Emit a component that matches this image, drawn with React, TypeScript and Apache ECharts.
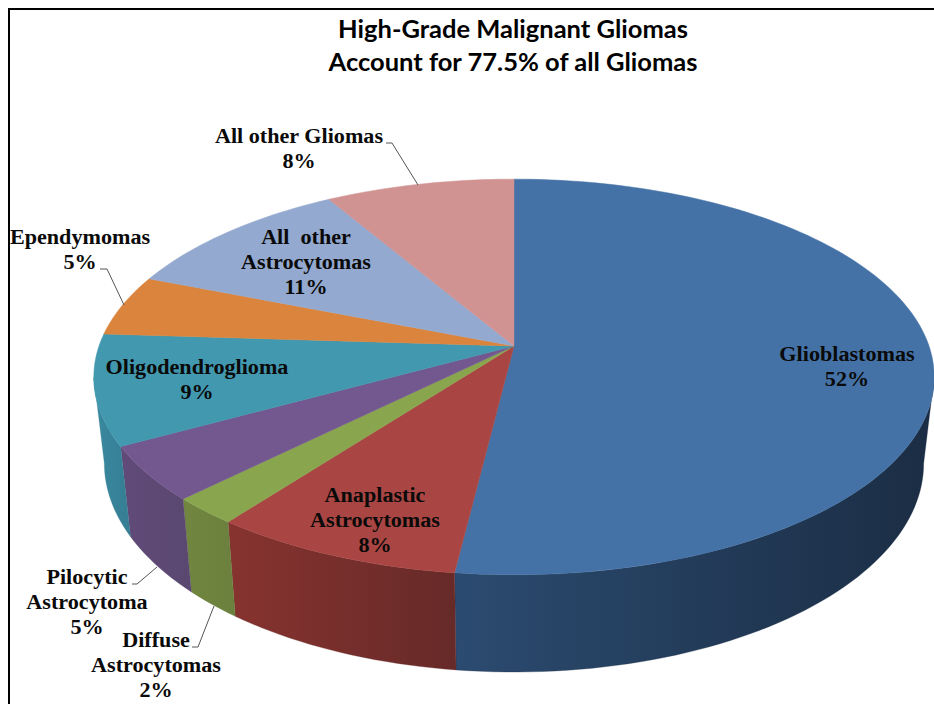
import React, { useEffect, useRef } from "react";
import * as echarts from "echarts";

const titleLines = ["High-Grade Malignant Gliomas", "Account for 77.5% of all Gliomas"];
const categories = [
  "Glioblastomas",
  "Anaplastic\nAstrocytomas",
  "Diffuse\nAstrocytomas",
  "Pilocytic\nAstrocytoma",
  "Oligodendroglioma",
  "Ependymomas",
  "All  other\nAstrocytomas",
  "All other Gliomas",
];
const percentLabels = [52, 8, 2, 5, 9, 5, 11, 8];
const values = [51.93, 8.37, 2.25, 4.45, 9, 5, 10.55, 8.45];
const topColors = ["#4472a6", "#a94643", "#89a54e", "#72588f", "#4198af", "#db843d", "#93a9cf", "#d09392"];
const sideStart = ["#2b4b70", "#87332f", "#71863f", "#614a79", "#3a8aa0", "#b06a30", "#7688a6", "#a87676"];
const sideEnd = ["#1b2d44", "#662a28", "#6b803d", "#5a4870", "#357d93", "#a06028", "#6a7a96", "#986a6a"];

const labelCenters = [
  [847, 354], [375, 495], [156, 640], [87, 577], [197, 367], [80, 237], [306, 237], [299, 136],
];
const leaderLines = [
  [[386, 143], [392, 143], [418, 185]],
  [[100, 269], [107, 269], [124, 305]],
  [[132, 584], [137, 584], [157, 567]],
  [[192, 647], [198, 647], [214, 606]],
];

// Perspective projection of the pie's disc
const CX = 514, CY = 346, RX = 415, RY = 193, K = 0.1566;
const DEPTH_Y = 430.6, DEPTH_SY = 1.055, DEPTH_SX = 0.975;
const SIDE_FROM = 99, SIDE_TO = 261;

function topPoint(deg: number): number[] {
  const t = (deg * Math.PI) / 180;
  const u = Math.sin(t), v = -Math.cos(t);
  const s = 1 / (1 - K * v);
  return [CX + RX * u * s, CY + RY * v * s];
}
function bottomPoint(deg: number): number[] {
  const p = topPoint(deg);
  return [CX + DEPTH_SX * (p[0] - CX), DEPTH_Y + DEPTH_SY * (p[1] - CY)];
}
function arc(a: number, b: number, fn: (d: number) => number[]): number[][] {
  const n = Math.max(2, Math.ceil(Math.abs(b - a) / 1.5));
  const pts: number[][] = [];
  for (let i = 0; i <= n; i++) pts.push(fn(a + ((b - a) * i) / n));
  return pts;
}

const total = values.reduce((s, v) => s + v, 0);
const serif = "'Liberation Serif', 'Times New Roman', serif";

export default function App() {
  const ref = useRef<HTMLDivElement>(null);
  useEffect(() => {
    const chart = echarts.init(ref.current!, undefined, { renderer: "svg" });
    const textEls = categories.map((c, i) => ({
      type: "text",
      x: labelCenters[i][0],
      y: labelCenters[i][1] - 12.5,
      scaleX: 1.08,
      z: 10,
      style: {
        text: `${c}\n${percentLabels[i]}%`,
        fontFamily: serif,
        fontWeight: "bold",
        fontSize: 20.5,
        lineHeight: 25.3,
        fill: "#0a0a0a",
        align: "center",
        verticalAlign: "top",
      },
    }));
    const titleEls = titleLines.map((t, i) => ({
      type: "text",
      x: 513,
      y: 28 + i * 33,
      z: 10,
      style: {
        text: t,
        fontFamily: "Lato, 'Open Sans', sans-serif",
        fontWeight: "bold",
        fontSize: 25.5,
        fill: "#000",
        align: "center",
        verticalAlign: "middle",
      },
    }));
    const leaderEls = leaderLines.map((pts) => ({
      type: "polyline",
      z: 9,
      shape: { points: pts },
      style: { stroke: "#555", lineWidth: 1, fill: "none" },
    }));
    chart.setOption({
      animation: false,
      backgroundColor: "#fff",
      series: [
        {
          type: "custom",
          coordinateSystem: "none",
          silent: true,
          data: values.map((v, i) => ({ name: categories[i], value: [v, i] })),
          renderItem: (_p: any, api: any) => {
            const v = api.value(0) as number;
            const i = api.value(1) as number;
            const before = values.slice(0, i).reduce((s, x) => s + x, 0);
            const a = (before / total) * 360;
            const b = ((before + v) / total) * 360;
            const children: any[] = [];
            const sa = Math.max(a, SIDE_FROM), sb = Math.min(b, SIDE_TO);
            if (sb > sa) {
              const pts = arc(sa, sb, topPoint).concat(arc(sb, sa, bottomPoint));
              const fill = new echarts.graphic.LinearGradient(0, 0, 1, 0, [
                { offset: 0, color: sideStart[i] },
                { offset: 1, color: sideEnd[i] },
              ]);
              children.push({
                type: "polygon",
                shape: { points: pts },
                style: { fill, stroke: sideEnd[i], lineWidth: 0.3 },
              });
            }
            children.push({
              type: "polygon",
              shape: { points: [[CX, CY], ...arc(a, b, topPoint)] },
              style: { fill: topColors[i], stroke: topColors[i], lineWidth: 0.5 },
            });
            return { type: "group", children };
          },
        },
      ],
      graphic: [
        { type: "line", z: 9, shape: { x1: 9, y1: 704, x2: 9, y2: 9 }, style: { stroke: "#000", lineWidth: 2 } },
        { type: "line", z: 9, shape: { x1: 8, y1: 9, x2: 934, y2: 9 }, style: { stroke: "#000", lineWidth: 2 } },
        ...leaderEls,
        ...titleEls,
        ...textEls,
      ],
    });
    return () => chart.dispose();
  }, []);
  return <div ref={ref} style={{ position: "absolute", left: 0, top: 0, width: 934, height: 704 }} />;
}
